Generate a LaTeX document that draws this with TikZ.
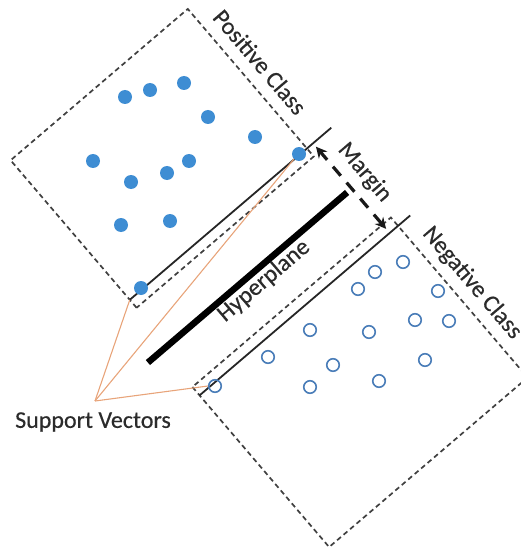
\documentclass[tikz,border=0pt]{standalone}
\usepackage{fontspec}
\setmainfont{Carlito}
\newfontfamily\lblfont[FakeBold=0.4]{Carlito}
\usetikzlibrary{arrows.meta}

\definecolor{ink}{HTML}{2B2B2B}
\definecolor{dashgray}{HTML}{404040}
\definecolor{dotblue}{HTML}{3E8DD3}
\definecolor{ringblue}{HTML}{4A7DB8}
\definecolor{leader}{HTML}{E8A47A}

\tikzset{
  classbox/.style={draw=dashgray, line width=1.7pt, dash pattern=on 5pt off 3.5pt},
  supportline/.style={draw=black!85, line width=1.8pt},
  hyper/.style={draw=black, line width=6.5pt},
  marginarrow/.style={draw=black!90, line width=3.2pt, dash pattern=on 12pt off 9pt,
    {Stealth[length=11pt,width=11pt]}-{Stealth[length=11pt,width=11pt]}},
  posdot/.style={circle, fill=dotblue, minimum size=14pt, inner sep=0pt},
  negdot/.style={circle, draw=ringblue, line width=1.6pt, minimum size=12.5pt, inner sep=0pt},
  leaderline/.style={draw=leader, line width=1.1pt},
  lbl/.style={text=ink, font=\lblfont\fontsize{24}{26}\selectfont, inner sep=0pt},
}

\begin{document}
\begin{tikzpicture}[x=1pt, y=1pt]
  \path[use as bounding box] (0,0) rectangle (521,-548);

  % frame aligned with the separating hyperplane
  \begin{scope}[shift={(247.5,-277.5)}, rotate=40.5]
    % class regions
    \draw[classbox] (-104,49) rectangle (129,243);
    \draw[classbox] (-113,-47.5) rectangle (148,-258);
    % support lines and hyperplane
    \coordinate (pl1) at (-104,59.5);
    \coordinate (pl2) at (161,59.5);
    \coordinate (nl1) at (-113,-58.5);
    \coordinate (nl2) at (164,-58.5);
    \coordinate (h1) at (-131,0);
    \coordinate (h2) at (131,0);
    \coordinate (m1) at (137,-53);
    \coordinate (m2) at (137,55);
    \draw[supportline] (pl1) -- (pl2);
    \draw[supportline] (nl1) -- (nl2);
    \draw[hyper] (h1) -- (h2);
    \draw[marginarrow] (m1) -- (m2);
  \end{scope}

  % positive samples
  \foreach \x/\y [count=\i] in {125/97, 150/90, 184/83, 208/117, 255/137, 299/154,
      93/161, 189/161, 167/173, 131/182, 121/225, 170/221, 141/288}
    \node[posdot] (p\i) at (\x,-\y) {};

  % negative samples
  \foreach \x/\y [count=\i] in {403/262, 375/272, 358/289, 438/291, 415/320, 449/321,
      310/330, 369/332, 268/357, 333/365, 425/360, 310/387, 379/381, 215/386}
    \node[negdot] (n\i) at (\x,-\y) {};

  % labels
  \node[lbl, rotate=-49.5] (poslbl) at (260,-62) {Positive Class};
  \node[lbl, rotate=-49.5] (neglbl) at (472,-283) {Negative Class};
  \node[lbl, rotate=-49.5] (marginlbl) at (364.5,-172.5) {Margin};
  \node[lbl, rotate=40.5] (hyperlbl) at (264,-281) {Hyperplane};
  \node[lbl] (svlbl) at (93,-422) {Support Vectors};

  % leaders to the support vectors
  \coordinate (sv) at (95,-401);
  \draw[leaderline] (sv) -- (pl1);
  \draw[leaderline] (sv) -- (p6.south west);
  \draw[leaderline] (sv) -- (n14.west);
\end{tikzpicture}
\end{document}
